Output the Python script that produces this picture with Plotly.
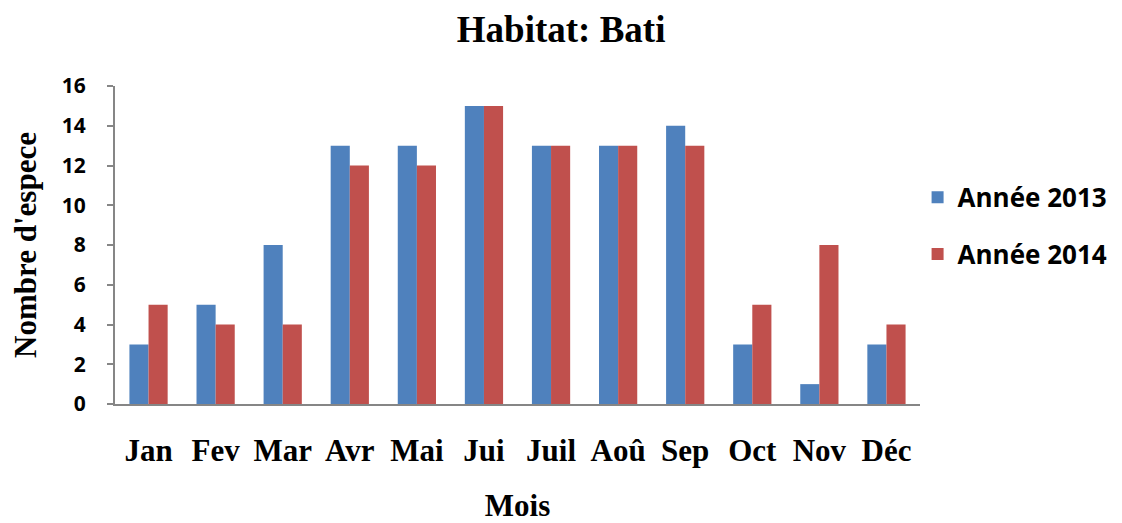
import plotly.graph_objects as go

months = ["Jan", "Fev", "Mar", "Avr", "Mai", "Jui", "Juil", "Aoû", "Sep", "Oct", "Nov", "Déc"]
annee_2013 = [3, 5, 8, 13, 13, 15, 13, 13, 14, 3, 1, 3]
annee_2014 = [5, 4, 4, 12, 12, 15, 13, 13, 13, 5, 8, 4]
y_ticks = [0, 2, 4, 6, 8, 10, 12, 14, 16]

serif = "Liberation Serif, Times New Roman, serif"
sans = "Open Sans, Liberation Sans, Arial, sans-serif"

fig = go.Figure()
fig.add_trace(go.Bar(x=months, y=annee_2013, name="<b>Année 2013</b>", legendgroup="a",
                     marker=dict(color="#4F81BD", line=dict(width=0))))
fig.add_trace(go.Bar(x=months, y=annee_2014, name="<b>Année 2014</b>", legendgroup="b",
                     marker=dict(color="#C0504D", line=dict(width=0))))

fig.update_layout(
    width=1122, height=523,
    margin=dict(l=107, r=210, t=78, b=127, autoexpand=False),
    paper_bgcolor="white", plot_bgcolor="white",
    barmode="group", bargap=0.43, bargroupgap=0,
    title=dict(text="<b>Habitat: Bati</b>", x=0.493, xref="container", xanchor="center",
               y=0.96, yanchor="middle",
               font=dict(family=serif, size=37, color="black")),
    legend=dict(x=0.997, xanchor="left", y=0.56, yanchor="middle",
                font=dict(family=sans, size=26, color="black"),
                itemsizing="constant", tracegroupgap=20,
                bgcolor="rgba(0,0,0,0)"),
    showlegend=True,
)
fig.update_xaxes(
    showline=True, linecolor="#868686", linewidth=2,
    showgrid=False, ticks="", ticklen=0, automargin=False,
    tickfont=dict(family=serif, size=31, color="black"),
    ticklabelstandoff=18,
    title=dict(text="<b>Mois</b>", font=dict(family=serif, size=31, color="black"), standoff=27),
    tickprefix="<b>", ticksuffix="</b>",
)
fig.update_yaxes(
    range=[0, 16], tickvals=y_ticks,
    ticktext=[f"<b>{v}</b>" for v in y_ticks],
    showline=True, linecolor="#868686", linewidth=2, automargin=False,
    showgrid=False, ticks="outside", ticklen=6, tickcolor="#868686", tickwidth=2,
    tickfont=dict(family=sans, size=21, color="black"),
    ticklabelstandoff=17,
    title=dict(text="<b>Nombre d'espece</b>", font=dict(family=serif, size=31, color="black"), standoff=20),
    zeroline=False,
)

fig.write_html("out.html")
